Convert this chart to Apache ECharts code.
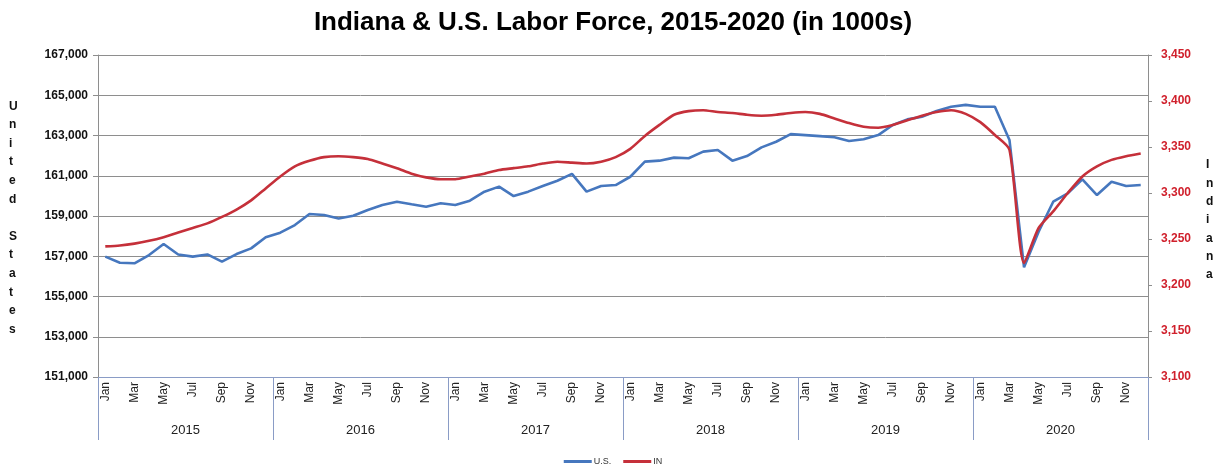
<!DOCTYPE html>
<html>
<head>
<meta charset="utf-8">
<title>Indiana & U.S. Labor Force, 2015-2020</title>
<script src="https://cdn.jsdelivr.net/npm/echarts@6/dist/echarts.min.js"></script>
<style>
  html, body { margin: 0; padding: 0; background: #ffffff; }
  #chart { width: 1226px; height: 468px; }
</style>
</head>
<body>
<div id="chart"></div>
<script>
// Labor force, thousands of persons, monthly Jan 2015 - Dec 2020
const years = ['2015', '2016', '2017', '2018', '2019', '2020'];
const monthNames = ['Jan', 'Feb', 'Mar', 'Apr', 'May', 'Jun', 'Jul', 'Aug', 'Sep', 'Oct', 'Nov', 'Dec'];

const usLaborForce = [
  156980, 156680, 156650, 157060, 157610, 157090, 156980, 157090, 156730, 157110, 157390, 157940,
  158170, 158550, 159100, 159050, 158880, 159010, 159300, 159550, 159710, 159580, 159460, 159630,
  159550, 159760, 160210, 160460, 159990, 160210, 160490, 160750, 161090, 160210, 160490, 160540,
  160950, 161700, 161750, 161900, 161870, 162200, 162280, 161750, 161980, 162410, 162690, 163070,
  163020, 162970, 162910, 162730, 162810, 163020, 163520, 163800, 163930, 164220, 164430, 164520,
  164430, 164430, 162780, 156450, 158220, 159710, 160130, 160820, 160040, 160700, 160490, 160540
];

const inLaborForce = [
  3242, 3243, 3245, 3248, 3252, 3257, 3262, 3267, 3274, 3282, 3292, 3305,
  3318, 3329, 3335, 3339, 3340, 3339, 3337, 3332, 3327, 3321, 3317, 3315,
  3315, 3318, 3321, 3325, 3327, 3329, 3332, 3334, 3333, 3332, 3334, 3339,
  3348, 3362, 3374, 3385, 3389, 3390, 3388, 3387, 3385, 3384, 3385, 3387,
  3388, 3386, 3381, 3376, 3372, 3371, 3374, 3379, 3384, 3388, 3390, 3386,
  3377, 3363, 3347, 3224, 3262, 3280, 3300, 3318, 3329, 3336, 3340, 3343
];

const usTicks = { min: 151000, max: 167000, step: 2000 };
const inTicks = { min: 3100, max: 3450, step: 50 };

// one category per month, labelled by its month abbreviation
const monthCategories = [];
years.forEach(y => monthNames.forEach((m, i) => monthCategories.push(y + '-' + (i + 1))));

const FONT = '"Liberation Sans", Arial, sans-serif';
const BLUE = '#4677BE';
const RED = '#C5303A';
const AXIS_BLUE = '#8A9CC6';
const GRID_GRAY = '#8E8E8E';

function thousands(v) {
  return String(v).replace(/\B(?=(\d{3})+(?!\d))/g, ',');
}

const chart = echarts.init(document.getElementById('chart'), null, { renderer: 'canvas' });

chart.setOption({
  backgroundColor: '#ffffff',
  animation: false,
  textStyle: { fontFamily: FONT },
  title: {
    text: 'Indiana & U.S. Labor Force, 2015-2020 (in 1000s)',
    left: 'center',
    top: 5,
    textStyle: { fontFamily: FONT, fontSize: 26, fontWeight: 'bold', color: '#000000' }
  },
  legend: {
    bottom: -3,
    left: 'center',
    itemWidth: 28,
    itemHeight: 3,
    itemGap: 12,
    icon: 'rect',
    textStyle: { fontFamily: FONT, fontSize: 9, color: '#333333', padding: [0, 0, 0, -3] },
    data: ['U.S.', 'IN']
  },
  grid: { left: 98, right: 78, top: 55, bottom: 91, containLabel: false },
  xAxis: [
    {
      type: 'category',
      data: monthCategories,
      boundaryGap: true,
      axisLine: { show: true, lineStyle: { color: AXIS_BLUE, width: 1 } },
      axisTick: { show: false },
      axisLabel: {
        interval: 1,
        rotate: 90,
        margin: 5,
        fontSize: 12,
        color: '#222222',
        fontFamily: FONT,
        formatter: v => monthNames[parseInt(v.split('-')[1], 10) - 1]
      },
      splitLine: { show: false }
    },
    {
      type: 'category',
      data: years,
      position: 'bottom',
      offset: 63,
      boundaryGap: true,
      axisLine: { show: false },
      axisTick: { show: true, inside: true, length: 63, lineStyle: { color: AXIS_BLUE, width: 1 } },
      axisLabel: { inside: true, margin: 3, fontSize: 13, color: '#222222', fontFamily: FONT },
      splitLine: { show: false }
    }
  ],
  yAxis: [
    {
      type: 'value',
      position: 'left',
      min: usTicks.min,
      max: usTicks.max,
      interval: usTicks.step,
      axisLine: { show: true, lineStyle: { color: '#8E8E8E', width: 1 } },
      axisTick: { show: true, length: 5, lineStyle: { color: '#8E8E8E' } },
      axisLabel: {
        margin: 10,
        fontSize: 12,
        fontWeight: 'bold',
        color: '#111111',
        fontFamily: FONT,
        formatter: thousands
      },
      splitLine: { show: true, lineStyle: { color: GRID_GRAY, width: 1 } }
    },
    {
      type: 'value',
      position: 'right',
      min: inTicks.min,
      max: inTicks.max,
      interval: inTicks.step,
      axisLine: { show: true, lineStyle: { color: '#8E8E8E', width: 1 } },
      axisTick: { show: true, length: 4, lineStyle: { color: '#8E8E8E' } },
      axisLabel: {
        margin: 13,
        fontSize: 12,
        fontWeight: 'bold',
        color: '#D0202C',
        fontFamily: FONT,
        formatter: thousands
      },
      splitLine: { show: false }
    }
  ],
  series: [
    {
      name: 'U.S.',
      type: 'line',
      xAxisIndex: 0,
      yAxisIndex: 0,
      data: usLaborForce,
      showSymbol: false,
      symbol: 'none',
      smooth: false,
      color: BLUE,
      lineStyle: { color: BLUE, width: 2.6 },
      z: 3
    },
    {
      name: 'IN',
      type: 'line',
      xAxisIndex: 0,
      yAxisIndex: 1,
      data: inLaborForce,
      showSymbol: false,
      symbol: 'none',
      smooth: 0.22,
      color: RED,
      lineStyle: { color: RED, width: 2.6 },
      z: 4
    }
  ],
  graphic: [
    {
      type: 'text',
      left: 9,
      top: 97,
      style: {
        text: 'U\nn\ni\nt\ne\nd\n\nS\nt\na\nt\ne\ns',
        font: 'bold 12px ' + FONT,
        fill: '#111111',
        align: 'center',
        lineHeight: 18.6,
        width: 12
      }
    },
    {
      type: 'text',
      left: 1206,
      top: 156,
      style: {
        text: 'I\nn\nd\ni\na\nn\na',
        font: 'bold 12px ' + FONT,
        fill: '#111111',
        align: 'center',
        lineHeight: 18.3,
        width: 12
      }
    }
  ]
});
</script>
</body>
</html>
